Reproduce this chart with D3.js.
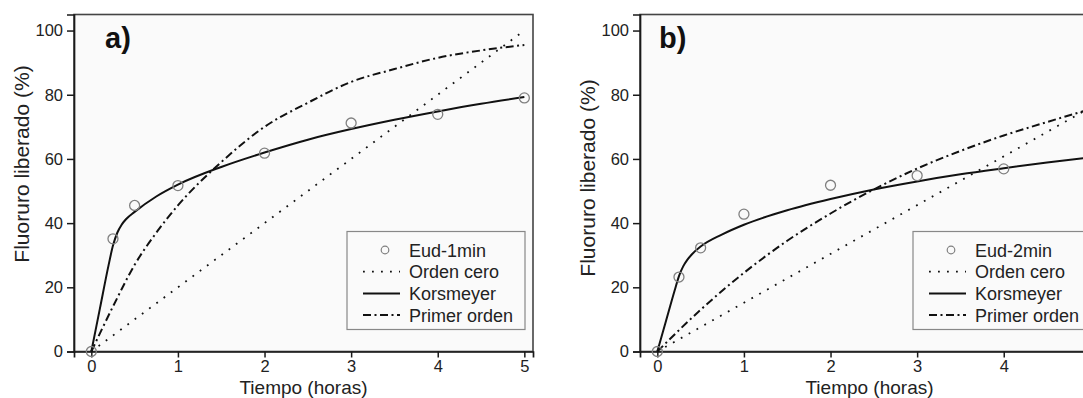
<!DOCTYPE html>
<html>
<head>
<meta charset="utf-8">
<script src="https://cdn.jsdelivr.net/npm/d3@7"></script>
<style>
  html, body { margin: 0; padding: 0; background: #ffffff; }
  svg { display: block; font-family: "Liberation Sans", Arial, sans-serif; }
</style>
</head>
<body>
<svg id="chart" width="1083" height="398"></svg>
<script>
// Fluoride release over time, two formulations, with three kinetic fits each.
const xTicks = [0, 1, 2, 3, 4, 5];
const yTicks = [0, 20, 40, 60, 80, 100];
const legendLabels = ["Orden cero", "Korsmeyer", "Primer orden"];

// Panel a) Eud-1min
const timeA = [0, 0.25, 0.5, 1, 2, 3, 4, 5];
const releaseA = [0, 35.1, 45.5, 51.7, 61.8, 71.2, 73.9, 79.0];
const ceroA_t = [0, 5];
const ceroA_v = [0, 100];
const korsA_t = [0, 0.1, 0.2, 0.25, 0.3, 0.35, 0.4, 0.5, 0.75, 1, 1.5, 2, 2.5, 3, 3.5, 4, 4.5, 5];
const korsA_v = [0, 13.5, 27, 33, 37, 39.5, 41.2, 43.5, 48.3, 52, 57.5, 62, 66, 69.3, 72.2, 74.8, 77.2, 79.3];
const primA_t = [0, 0.25, 0.5, 0.75, 1, 1.5, 2, 2.5, 3, 3.5, 4, 4.5, 5];
const primA_v = [0, 14, 27, 37, 45.5, 59, 70, 77.5, 84, 88, 91.5, 93.8, 95.5];

// Panel b) Eud-2min
const timeB = [0, 0.25, 0.5, 1, 2, 3, 4];
const releaseB = [0, 23.2, 32.3, 42.8, 51.8, 54.8, 56.9];
const ceroB_t = [0, 5];
const ceroB_v = [0, 76];
const korsB_t = [0, 0.1, 0.2, 0.25, 0.3, 0.35, 0.4, 0.5, 0.75, 1, 1.5, 2, 2.5, 3, 3.5, 4, 4.5, 5];
const korsB_v = [0, 9.5, 19, 23.5, 26.6, 28.7, 30.3, 32.7, 36.5, 39.5, 44, 47.5, 50.5, 53, 55.2, 57.1, 58.9, 60.5];
const primB_t = [0, 0.5, 1, 1.5, 2, 2.5, 3, 3.5, 4, 4.5, 5];
const primB_v = [0, 13, 24.5, 34.5, 43, 50.5, 57, 62.5, 67.3, 71.5, 75.5];

const zip = (ts, vs) => ts.map((t, i) => [t, vs[i]]);

const panels = [
  { id: "a", tag: "a)", name: "Eud-1min", left: 74, tagDx: 31, titleY: 164,
    pts: zip(timeA, releaseA), cero: zip(ceroA_t, ceroA_v),
    kors: zip(korsA_t, korsA_v), prim: zip(primA_t, primA_v) },
  { id: "b", tag: "b)", name: "Eud-2min", left: 640, tagDx: 19, titleY: 178,
    pts: zip(timeB, releaseB), cero: zip(ceroB_t, ceroB_v),
    kors: zip(korsB_t, korsB_v), prim: zip(primB_t, primB_v) }
];

const W = 1083;
const svg = d3.select("#chart");
const plotW = 459, plotTop = 14.5, plotBottom = 351.5;

const styles = {
  cero: { dash: "1.8,7.2", width: 1.8 },
  kors: { dash: null, width: 2 },
  prim: { dash: "8,3.5,2,3.5", width: 2 }
};

panels.forEach(p => {
  const x = d3.scaleLinear().domain([-0.2, 5.1]).range([p.left, p.left + plotW]);
  const y = d3.scaleLinear().domain([0, 105]).range([plotBottom, plotTop]);
  const g = svg.append("g");

  g.append("clipPath").attr("id", "clip-" + p.id)
    .append("rect").attr("x", p.left - 6).attr("y", plotTop)
    .attr("width", plotW + 6).attr("height", plotBottom - plotTop + 6);

  g.append("rect").attr("x", p.left).attr("y", plotTop)
    .attr("width", plotW).attr("height", plotBottom - plotTop)
    .attr("fill", "#fafafa").attr("stroke", "#444").attr("stroke-width", 1.6);

  // axes; tick labels that fall past the canvas edge are left blank
  const xAxis = d3.axisBottom(x).tickValues(xTicks).tickSize(6).tickPadding(3)
    .tickFormat(d => (x(d) + 6 > W ? "" : d3.format("d")(d)));
  const yAxis = d3.axisLeft(y).tickValues(yTicks).tickSize(7).tickPadding(4).tickFormat(d3.format("d"));
  const gx = g.append("g").attr("transform", `translate(0,${plotBottom})`).call(xAxis);
  const gy = g.append("g").attr("transform", `translate(${p.left},0)`).call(yAxis);
  [gx, gy].forEach(a => {
    a.select(".domain").attr("stroke", "#1a1a1a").attr("stroke-width", 1.7);
    a.selectAll(".tick line").attr("stroke", "#1a1a1a").attr("stroke-width", 1.5);
    a.selectAll(".tick text").attr("fill", "#222").style("font-size", "16.5px")
      .style("font-family", "'Liberation Sans', Arial, sans-serif");
  });

  // axis titles
  g.append("text").attr("x", p.left + plotW / 2).attr("y", 393.6)
    .attr("text-anchor", "middle").attr("fill", "#222").style("font-size", "19px")
    .text("Tiempo (horas)");
  g.append("text")
    .attr("transform", `translate(${p.left - 45},${p.titleY}) rotate(-90)`)
    .attr("text-anchor", "middle").attr("fill", "#222").style("font-size", "21px")
    .text("Fluoruro liberado (%)");

  // panel tag
  g.append("text").attr("x", p.left + p.tagDx).attr("y", 48)
    .attr("fill", "#111").style("font-size", "29px").style("font-weight", "bold")
    .text(p.tag);

  // fitted curves
  const line = d3.line().x(d => x(d[0])).y(d => y(d[1])).curve(d3.curveMonotoneX);
  const curves = g.append("g").attr("clip-path", `url(#clip-${p.id})`);
  ["cero", "kors", "prim"].forEach(k => {
    const s = styles[k];
    curves.append("path").datum(p[k]).attr("d", line)
      .attr("fill", "none").attr("stroke", "#111")
      .attr("stroke-width", s.width)
      .attr("stroke-dasharray", s.dash);
  });

  // measured points
  curves.selectAll("circle.pt").data(p.pts).join("circle").attr("class", "pt")
    .attr("cx", d => x(d[0])).attr("cy", d => y(d[1])).attr("r", 5)
    .attr("fill", "none").attr("stroke", "#808080").attr("stroke-width", 1.3);

  // legend
  const lx = p.left + 273, ly = 231.5, lw = 178, lh = 98;
  const lg = g.append("g");
  lg.append("rect").attr("x", lx).attr("y", ly).attr("width", lw).attr("height", lh)
    .attr("fill", "#fafafa").attr("stroke", "#888").attr("stroke-width", 1.2);
  const rows = [p.name].concat(legendLabels);
  const keys = [null, "cero", "kors", "prim"];
  rows.forEach((label, i) => {
    const cy = ly + 18.5 + i * 21.7;
    if (i === 0) {
      lg.append("circle").attr("cx", lx + 38).attr("cy", cy).attr("r", 3.8)
        .attr("fill", "none").attr("stroke", "#808080").attr("stroke-width", 1.2);
    } else {
      const s = styles[keys[i]];
      lg.append("line").attr("x1", lx + 16).attr("x2", lx + 53)
        .attr("y1", cy).attr("y2", cy).attr("stroke", "#111")
        .attr("stroke-width", s.width).attr("stroke-dasharray", s.dash);
    }
    lg.append("text").attr("x", lx + 62).attr("y", cy + 6.5)
      .attr("fill", "#222").style("font-size", "18px").text(label);
  });
});
</script>
</body>
</html>
